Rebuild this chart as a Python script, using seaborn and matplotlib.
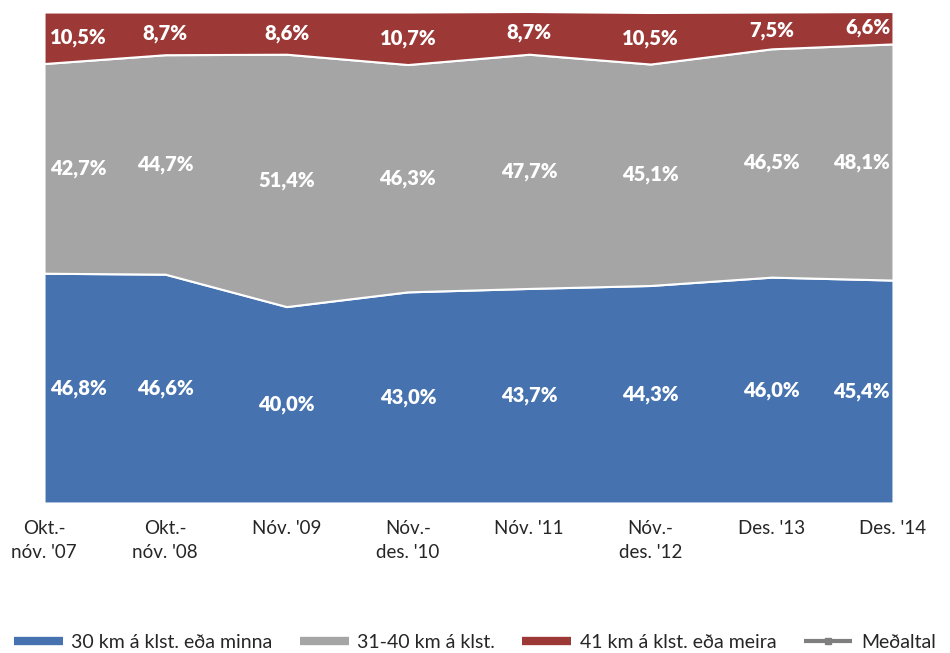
import matplotlib
matplotlib.use("Agg")
import matplotlib.pyplot as plt
from matplotlib.lines import Line2D
import seaborn as sns
import numpy as np

categories = ["Okt.-\nnóv. '07", "Okt.-\nnóv. '08", "Nóv. '09", "Nóv.-\ndes. '10",
              "Nóv. '11", "Nóv.-\ndes. '12", "Des. '13", "Des. '14"]
low = [46.8, 46.6, 40.0, 43.0, 43.7, 44.3, 46.0, 45.4]
mid = [42.7, 44.7, 51.4, 46.3, 47.7, 45.1, 46.5, 48.1]
high = [10.5, 8.7, 8.6, 10.7, 8.7, 10.5, 7.5, 6.6]
series_names = ["30 km á klst. eða minna", "31-40 km á klst.", "41 km á klst. eða meira", "Meðaltal"]

sns.set_theme(style="white")
plt.rcParams['font.family'] = ['Lato', 'DejaVu Sans']

colors = ["#4673B0", "#A5A5A5", "#9C3836"]

fig = plt.figure(figsize=(9.5, 6.53), dpi=100)
ax = fig.add_axes([44/950, 1-503/653, (893-44)/950, (503-12)/653])

x = np.arange(len(categories))
ys = [np.array(low), np.array(mid), np.array(high)]
ax.stackplot(x, *ys, colors=colors, edgecolor="white", linewidth=1.5)

cum = np.zeros(len(x))
for s in ys:
    mids = cum + s / 2
    for i in range(len(x)):
        ha = "center"
        off = 0
        if i == 0:
            ha = "left"; off = 6
        elif i == len(x) - 1:
            ha = "right"; off = -3
        ax.annotate(f"{s[i]:.1f}%".replace(".", ","), (x[i], mids[i]),
                    xytext=(off, 0), textcoords="offset pixels",
                    ha=ha, va="center", color="white", fontsize=14.5,
                    fontweight="heavy")
    cum = cum + s

ax.set_xlim(0, len(x) - 1)
ax.set_ylim(0, 100)
ax.set_yticks([])
ax.set_xticks(x)
ax.set_xticklabels(categories, fontsize=13.5, linespacing=1.55)
ax.tick_params(axis="x", length=0, pad=12)
for sp in ax.spines.values():
    sp.set_visible(False)

handles = [Line2D([0], [0], color=colors[0], lw=6, solid_capstyle="butt"),
           Line2D([0], [0], color=colors[1], lw=6, solid_capstyle="butt"),
           Line2D([0], [0], color=colors[2], lw=6, solid_capstyle="butt"),
           Line2D([0], [0], color="#7F7F7F", lw=3, marker="s", markersize=5,
                  solid_capstyle="butt")]
fig.legend(handles, series_names, loc="lower center", bbox_to_anchor=(0.5, -0.02),
           ncol=4, frameon=False, fontsize=14, handlelength=2.5,
           columnspacing=1.4, handletextpad=0.45, borderpad=0.3)

fig.savefig("out.png", dpi=100)
